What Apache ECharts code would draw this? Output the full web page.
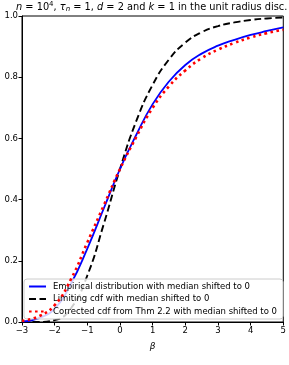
<!DOCTYPE html>
<html>
<head>
<meta charset="utf-8">
<script src="https://cdn.jsdelivr.net/npm/echarts@6/dist/echarts.min.js"></script>
<style>
html,body{margin:0;padding:0;background:#fff;}
#chart{width:289px;height:365px;}
</style>
</head>
<body>
<div id="chart"></div>
<script>
// beta grid (x values)
var betas = [-3, -2.5, -2, -1.5, -1, -0.5, 0, 0.5, 1, 1.5, 2, 2.5, 3, 3.5, 4, 4.5, 5];
// Empirical distribution with median shifted to 0
var empirical = [0.002, 0.012, 0.044, 0.125, 0.24, 0.37, 0.5, 0.612, 0.712, 0.786, 0.84, 0.877, 0.903, 0.922, 0.938, 0.951, 0.963];
// Limiting cdf with median shifted to 0
var limiting = [0.0, 0.0002, 0.006, 0.045, 0.152, 0.319, 0.5, 0.657, 0.775, 0.858, 0.913, 0.947, 0.967, 0.979, 0.987, 0.992, 0.995];
// Corrected cdf from Thm 2.2 with median shifted to 0
var corrected = [0.004, 0.018, 0.055, 0.14, 0.26, 0.38, 0.5, 0.605, 0.70, 0.77, 0.822, 0.862, 0.89, 0.912, 0.93, 0.944, 0.955];
var xTicks = [-3, -2, -1, 0, 1, 2, 3, 4, 5];
var yTicks = ["0.0", "0.2", "0.4", "0.6", "0.8", "1.0"];
var seriesNames = [
  "Empirical distribution with median shifted to 0",
  "Limiting cdf with median shifted to 0",
  "Corrected cdf from Thm 2.2 with median shifted to 0"
];

function pairs(vals) { return betas.map(function (b, i) { return [b, vals[i]]; }); }

var font = "DejaVu Sans";
var chart = echarts.init(document.getElementById('chart'), null, {renderer: 'canvas'});
chart.setOption({
  animation: false,
  backgroundColor: '#fff',
  title: {
    text: '{i|n} = 10{sup|4}, {i|τ}{sub|n} = 1, {i|d} = 2 and {i|k} = 1 in the unit radius disc.',
    left: 16, top: 1, padding: 0,
    textStyle: {
      fontFamily: font, fontSize: 9.8, fontWeight: 'normal', color: '#000',
      rich: {
        i: {fontFamily: font, fontStyle: 'italic', fontSize: 9.8, color: '#000'},
        sup: {fontFamily: font, fontSize: 7, color: '#000', verticalAlign: 'top', padding: [0, 0, 5, 0]},
        sub: {fontFamily: font, fontStyle: 'italic', fontSize: 7, color: '#000', verticalAlign: 'bottom', padding: [4, 0, 0, 0]}
      }
    }
  },
  grid: {left: 22, right: 5, top: 16, bottom: 43, show: true, borderColor: '#000', borderWidth: 1, backgroundColor: 'transparent'},
  xAxis: {
    type: 'value', min: -3, max: 5, interval: 1,
    name: 'β', nameLocation: 'middle', nameGap: 20,
    nameTextStyle: {fontFamily: font, fontStyle: 'italic', fontSize: 9, color: '#000'},
    axisLine: {show: true, onZero: false, lineStyle: {color: '#000', width: 1}},
    axisTick: {show: true, length: 3.5, inside: false, lineStyle: {color: '#000'}},
    axisLabel: {fontFamily: font, fontSize: 8.5, color: '#000', margin: 4,
      formatter: function (v) { return xTicks.indexOf(v) >= 0 ? (v < 0 ? '\u2212' + (-v) : String(v)) : ''; }},
    splitLine: {show: false}
  },
  yAxis: {
    type: 'value', min: 0, max: 1, interval: 0.2,
    axisLine: {show: true, onZero: false, lineStyle: {color: '#000', width: 1}},
    axisTick: {show: true, length: 3.5, lineStyle: {color: '#000'}},
    axisLabel: {fontFamily: font, fontSize: 8.5, color: '#000', margin: 4,
      formatter: function (v) { return yTicks[Math.round(v / 0.2)]; }},
    splitLine: {show: false}
  },
  legend: {
    orient: 'vertical', left: 24, top: 279,
    backgroundColor: 'rgba(255,255,255,0.8)', borderColor: '#cccccc', borderWidth: 1, borderRadius: 3,
    padding: [3, 6, 3, 4], itemGap: 3.5, itemWidth: 17, itemHeight: 9,
    itemStyle: {color: 'transparent', borderWidth: 0, opacity: 0},
    textStyle: {fontFamily: font, fontSize: 8.5, color: '#000', padding: [0, 0, 0, 2]},
    data: seriesNames
  },
  series: [
    {name: seriesNames[0], type: 'line', data: pairs(empirical), smooth: 0.5, symbol: 'none',
     lineStyle: {color: '#0000ff', width: 1.8}, itemStyle: {color: '#0000ff'}, z: 3},
    {name: seriesNames[1], type: 'line', data: pairs(limiting), smooth: 0.5, symbol: 'none',
     lineStyle: {color: '#000000', width: 1.9, type: [7, 3.5]}, itemStyle: {color: '#000000'}, z: 2},
    {name: seriesNames[2], type: 'line', data: pairs(corrected), smooth: 0.5, symbol: 'none',
     lineStyle: {color: '#ff0000', width: 2.6, type: [2.6, 3.4]}, itemStyle: {color: '#ff0000'}, z: 4}
  ]
});
</script>
</body>
</html>
